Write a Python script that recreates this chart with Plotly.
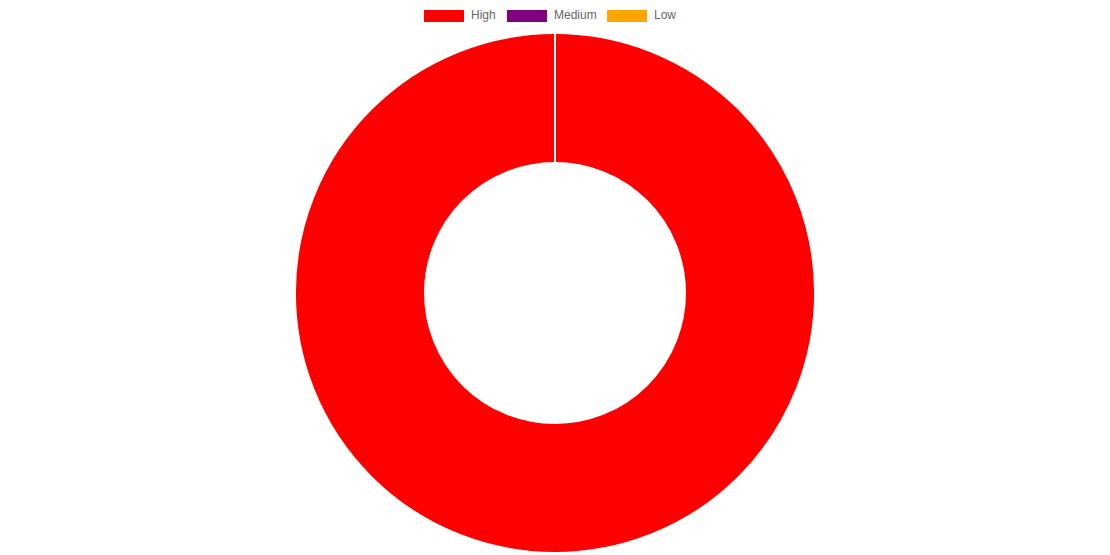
import plotly.graph_objects as go

labels = ["High", "Medium", "Low"]
values = [12, 0, 0]
colors = ["#ff0000", "#800080", "#ffa500"]

# the page body has an 8px margin, so the figure is sized to fit the window
W, H = 1102, 547
OFF = 8
mt, mb, ml, mr = 25, 2, 0, 8
plot_h = H - mt - mb
plot_w = W - ml - mr

fig = go.Figure()
fig.add_trace(go.Pie(
    labels=labels, values=values, hole=0.5, sort=False, direction="clockwise",
    rotation=0, marker=dict(colors=colors, line=dict(color="#ffffff", width=2)),
    textinfo="none", hoverinfo="label+value", showlegend=False,
))

def py_paper(py):
    return (H - mb - (py - OFF)) / plot_h

def px_paper(px):
    return (px - OFF - ml) / plot_w

box_x = [424, 507, 607]
shapes, annos = [], []
for lab, col, bx in zip(labels, colors, box_x):
    shapes.append(dict(type="rect", xref="paper", yref="paper",
                       x0=px_paper(bx), x1=px_paper(bx + 40),
                       y0=py_paper(22), y1=py_paper(10),
                       fillcolor=col, line=dict(width=0)))
    annos.append(dict(text=lab, xref="paper", yref="paper", x=px_paper(bx + 45),
                      y=py_paper(15.5), xanchor="left", yanchor="middle",
                      showarrow=False, font=dict(size=12, color="#666666",
                                                 family="Liberation Sans, Arial, sans-serif")))

fig.update_layout(
    width=W, height=H, margin=dict(l=ml, r=mr, t=mt, b=mb),
    paper_bgcolor="white", plot_bgcolor="white",
    shapes=shapes, annotations=annos, showlegend=False,
)
fig.write_html("out.html")
